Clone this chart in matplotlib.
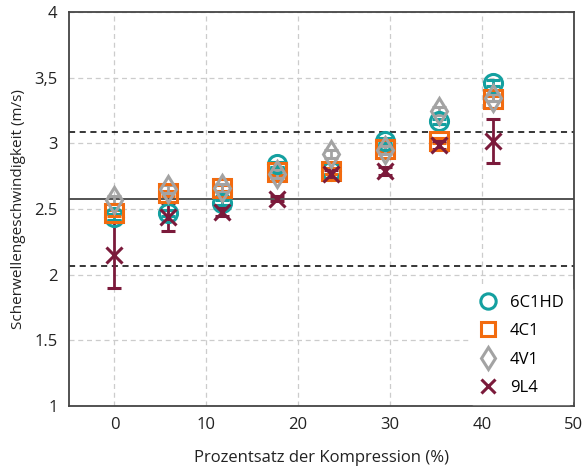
import matplotlib.pyplot as plt

# compression percentage per sample step
x_vals = [0, 5.88, 11.76, 17.65, 23.53, 29.41, 35.29, 41.18]

# shear wave velocity (m/s) per series
v_6c1hd = [2.44, 2.47, 2.55, 2.84, 2.79, 3.02, 3.17, 3.46]
v_4c1 = [2.47, 2.62, 2.66, 2.78, 2.79, 2.96, 3.02, 3.34]
v_4v1 = [2.57, 2.65, 2.66, 2.77, 2.92, 2.95, 3.25, 3.35]
v_9l4 = [2.15, 2.44, 2.48, 2.58, 2.77, 2.79, 2.99, 3.02]

# standard deviations
e_6c1hd = [0.02, 0.02, 0.02, 0.02, 0.02, 0.02, 0.02, 0.02]
e_4c1 = [0.02, 0.02, 0.02, 0.02, 0.02, 0.02, 0.02, 0.02]
e_4v1 = [0.03, 0.03, 0.03, 0.03, 0.03, 0.03, 0.03, 0.03]
e_9l4 = [0.25, 0.11, 0.03, 0.02, 0.03, 0.03, 0.03, 0.17]

# reference mean and +/- band
ref_mean = 2.58
ref_band = 0.51

y_ticks = [1, 1.5, 2, 2.5, 3, 3.5, 4]
y_ticklabels = ["1", "1.5", "2", "2.5", "3", "3,5", "4"]
x_ticks = [0, 10, 20, 30, 40, 50]

plt.rcParams['font.family'] = ['Open Sans', 'DejaVu Sans']

fig = plt.figure(figsize=(5.86, 4.71), dpi=100)
ax = fig.add_axes([0.117, 0.138, 0.862, 0.836])

ax.grid(True, color='#cccccc', linestyle=(0, (4, 3)), linewidth=0.9)
ax.set_axisbelow(True)

ax.axhline(ref_mean, color='#444444', linewidth=1.3, zorder=2)
ax.axhline(ref_mean + ref_band, color='black', linewidth=1.1, linestyle=(0, (4, 3)), zorder=2)
ax.axhline(ref_mean - ref_band, color='black', linewidth=1.1, linestyle=(0, (4, 3)), zorder=2)

series = [
    ("6C1HD", v_6c1hd, e_6c1hd, 'o', '#14a0a0', 13),
    ("4C1", v_4c1, e_4c1, 's', '#f26b0f', 12.5),
    ("4V1", v_4v1, e_4v1, 'd', '#a3a3a3', 13),
    ("9L4", v_9l4, e_9l4, 'x', '#7b1a3b', 12),
]

for label, vals, errs, mk, col, ms in series:
    ax.errorbar(x_vals, vals, yerr=errs, fmt=mk, color=col, ecolor=col,
                markersize=ms, markerfacecolor='none', markeredgecolor=col,
                markeredgewidth=2.2, elinewidth=2, capsize=5, capthick=2,
                label=label, zorder=3)

ax.set_xlim(-5, 50)
ax.set_ylim(1, 4)
ax.set_xticks(x_ticks)
ax.set_yticks(y_ticks)
ax.set_yticklabels(y_ticklabels)
ax.tick_params(labelsize=12, length=0, pad=8, colors='#222222')

for s in ax.spines.values():
    s.set_color('#444444')
    s.set_linewidth(1.3)

ax.set_xlabel("Prozentsatz der Kompression (%)", fontsize=12, labelpad=12, color='#222222')
ax.set_ylabel("Scherwellengeschwindigkeit (m/s)", fontsize=11, labelpad=6, color='#222222')

handles, labels = ax.get_legend_handles_labels()
handles = [h[0] for h in handles]
leg = ax.legend(handles, labels, loc='lower right', frameon=True, fontsize=12,
                markerscale=0.85, handletextpad=0.7, labelspacing=0.75,
                borderaxespad=0.1, handlelength=1.2, borderpad=0.5)
leg.get_frame().set_edgecolor('white')
leg.get_frame().set_facecolor('white')
leg.get_frame().set_alpha(1)

fig.savefig("out.png", dpi=100)
